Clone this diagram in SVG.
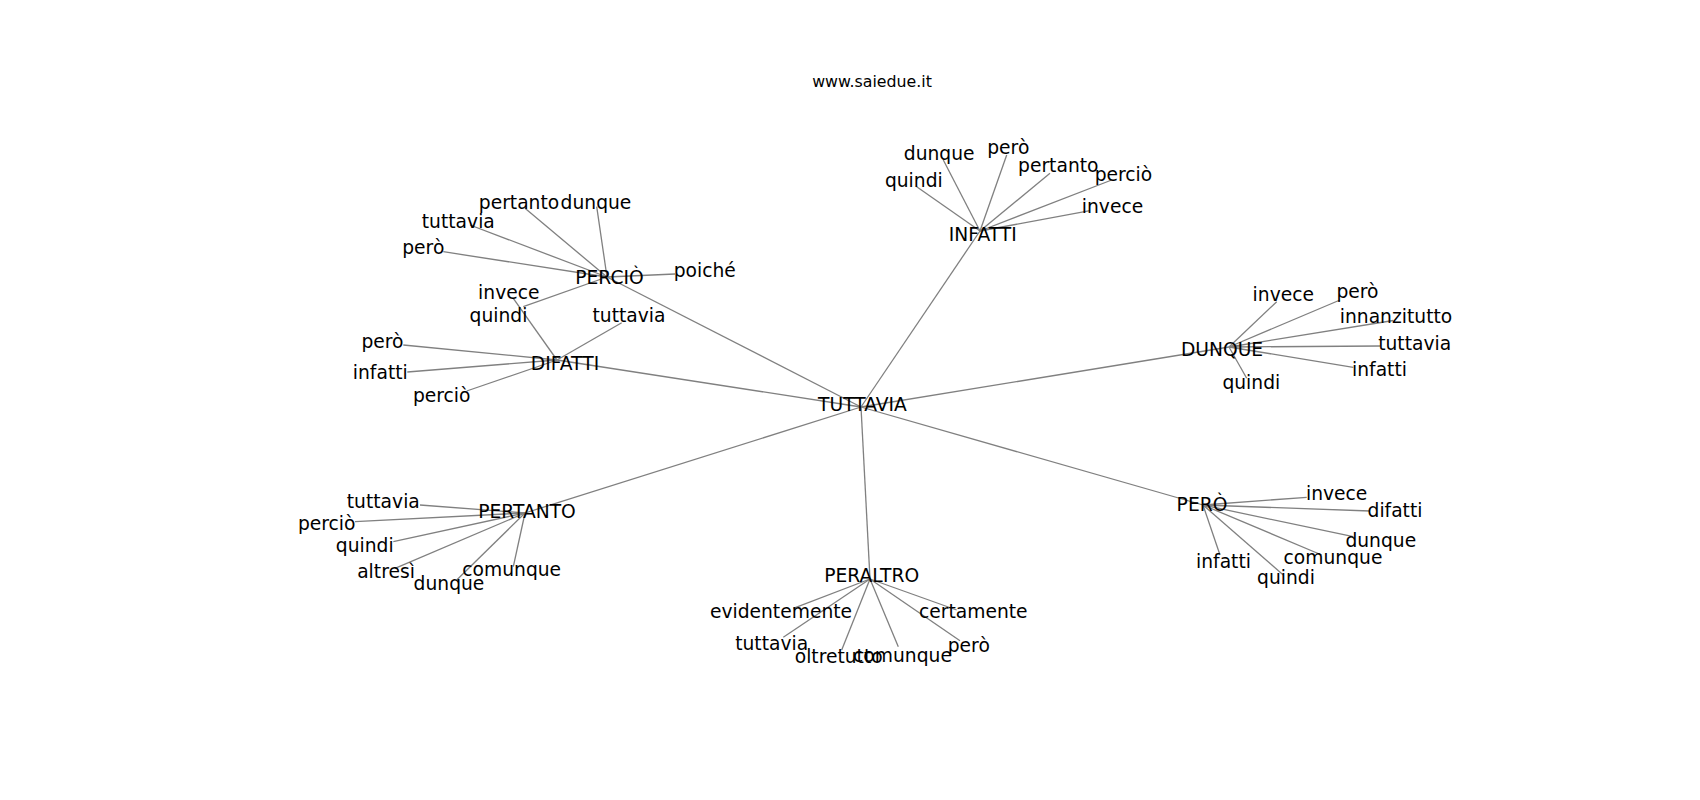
<svg xmlns="http://www.w3.org/2000/svg" width="1700" height="800" viewBox="0 0 1700 800">
<style>
text{font-family:"DejaVu Sans","Liberation Sans",sans-serif;fill:#000;text-anchor:middle}
.n{font-size:18.7px}
.t{font-size:15.8px}
#edges line{stroke:#808080;stroke-width:1.3;fill:none}
</style>
<rect width="1700" height="800" fill="#fff"/>
<text class="t" x="872" y="87.3">www.saiedue.it</text>
<g id="edges">
<line x1="861" y1="407" x2="607" y2="277"/>
<line x1="861" y1="407" x2="557" y2="360"/>
<line x1="861" y1="407" x2="525" y2="513"/>
<line x1="861" y1="407" x2="980" y2="231"/>
<line x1="861" y1="407" x2="1229" y2="347"/>
<line x1="861" y1="407" x2="1203" y2="505"/>
<line x1="861" y1="407" x2="870" y2="579"/>
<line x1="607" y1="277" x2="443.3" y2="251.7"/>
<line x1="607" y1="277" x2="470" y2="225"/>
<line x1="607" y1="277" x2="525" y2="208.3"/>
<line x1="607" y1="277" x2="596.7" y2="206.7"/>
<line x1="607" y1="277" x2="675" y2="274"/>
<line x1="607" y1="277" x2="523.3" y2="306.7"/>
<line x1="557" y1="360" x2="513.3" y2="298.3"/>
<line x1="557" y1="360" x2="621.7" y2="322.7"/>
<line x1="557" y1="360" x2="403.3" y2="345"/>
<line x1="557" y1="360" x2="407.3" y2="372"/>
<line x1="557" y1="360" x2="466.7" y2="391"/>
<line x1="980" y1="231" x2="943.3" y2="160"/>
<line x1="980" y1="231" x2="1006.7" y2="155"/>
<line x1="980" y1="231" x2="1050" y2="173.3"/>
<line x1="980" y1="231" x2="1111.7" y2="180"/>
<line x1="980" y1="231" x2="916.7" y2="186.7"/>
<line x1="980" y1="231" x2="1090" y2="210.7"/>
<line x1="1229" y1="347" x2="1276.7" y2="301.7"/>
<line x1="1229" y1="347" x2="1340" y2="300"/>
<line x1="1229" y1="347" x2="1393.3" y2="320.5"/>
<line x1="1229" y1="347" x2="1380" y2="346"/>
<line x1="1229" y1="347" x2="1353.3" y2="367.3"/>
<line x1="1229" y1="347" x2="1246.7" y2="378.3"/>
<line x1="1203" y1="505" x2="1306.7" y2="497.3"/>
<line x1="1203" y1="505" x2="1370" y2="511"/>
<line x1="1203" y1="505" x2="1353.3" y2="536.7"/>
<line x1="1203" y1="505" x2="1321.7" y2="555"/>
<line x1="1203" y1="505" x2="1283.3" y2="575"/>
<line x1="1203" y1="505" x2="1220" y2="555"/>
<line x1="525" y1="513" x2="420" y2="505"/>
<line x1="525" y1="513" x2="355" y2="521.7"/>
<line x1="525" y1="513" x2="393.3" y2="541.7"/>
<line x1="525" y1="513" x2="395" y2="568.3"/>
<line x1="525" y1="513" x2="456.7" y2="580"/>
<line x1="525" y1="513" x2="513.3" y2="566.7"/>
<line x1="870" y1="579" x2="793.3" y2="608.3"/>
<line x1="870" y1="579" x2="783.3" y2="637.3"/>
<line x1="870" y1="579" x2="841.7" y2="650"/>
<line x1="870" y1="579" x2="898.3" y2="646.7"/>
<line x1="870" y1="579" x2="956.7" y2="610"/>
<line x1="870" y1="579" x2="960" y2="640.7"/>
</g>
<g id="tuttavia"><text class="n" x="862.5" y="411">TUTTAVIA</text></g>
<g id="percio"><text class="n" x="609.5" y="284">PERCIÒ</text></g>
<g id="difatti"><text class="n" x="565" y="370">DIFATTI</text></g>
<g id="infatti"><text class="n" x="982.8" y="241">INFATTI</text></g>
<g id="dunque"><text class="n" x="1222" y="355.7">DUNQUE</text></g>
<g id="pero"><text class="n" x="1202" y="511">PERÒ</text></g>
<g id="pertanto"><text class="n" x="527" y="517.7">PERTANTO</text></g>
<g id="peraltro"><text class="n" x="871.7" y="582.3">PERALTRO</text></g>
<g id="percio-pero"><text class="n" x="423.3" y="254">però</text></g>
<g id="percio-tuttavia"><text class="n" x="458.3" y="227.7">tuttavia</text></g>
<g id="percio-pertanto"><text class="n" x="519" y="209.3">pertanto</text></g>
<g id="percio-dunque"><text class="n" x="596" y="209.3">dunque</text></g>
<g id="percio-poiche"><text class="n" x="704.7" y="276.7">poiché</text></g>
<g id="percio-quindi"><text class="n" x="498.5" y="321.7">quindi</text></g>
<g id="difatti-invece"><text class="n" x="508.8" y="299.3">invece</text></g>
<g id="difatti-tuttavia"><text class="n" x="629" y="321.7">tuttavia</text></g>
<g id="difatti-pero"><text class="n" x="382.5" y="348">però</text></g>
<g id="difatti-infatti"><text class="n" x="380.3" y="379.2">infatti</text></g>
<g id="difatti-percio"><text class="n" x="441.7" y="401.7">perciò</text></g>
<g id="infatti-dunque"><text class="n" x="939.2" y="160">dunque</text></g>
<g id="infatti-pero"><text class="n" x="1008.3" y="154.3">però</text></g>
<g id="infatti-pertanto"><text class="n" x="1058.3" y="171.7">pertanto</text></g>
<g id="infatti-percio"><text class="n" x="1123.5" y="180.7">perciò</text></g>
<g id="infatti-quindi"><text class="n" x="913.8" y="187.3">quindi</text></g>
<g id="infatti-invece"><text class="n" x="1112.5" y="212.7">invece</text></g>
<g id="dunque-invece"><text class="n" x="1283.3" y="301">invece</text></g>
<g id="dunque-pero"><text class="n" x="1357.5" y="297.5">però</text></g>
<g id="dunque-innanzitutto"><text class="n" x="1396" y="322.5">innanzitutto</text></g>
<g id="dunque-tuttavia"><text class="n" x="1414.7" y="350">tuttavia</text></g>
<g id="dunque-infatti"><text class="n" x="1379.5" y="376">infatti</text></g>
<g id="dunque-quindi"><text class="n" x="1251.3" y="389.3">quindi</text></g>
<g id="pero-invece"><text class="n" x="1336.7" y="500">invece</text></g>
<g id="pero-difatti"><text class="n" x="1395" y="517.3">difatti</text></g>
<g id="pero-dunque"><text class="n" x="1380.8" y="547.3">dunque</text></g>
<g id="pero-comunque"><text class="n" x="1333" y="564">comunque</text></g>
<g id="pero-quindi"><text class="n" x="1286" y="584">quindi</text></g>
<g id="pero-infatti"><text class="n" x="1223.5" y="567.7">infatti</text></g>
<g id="pertanto-tuttavia"><text class="n" x="383.3" y="508.3">tuttavia</text></g>
<g id="pertanto-percio"><text class="n" x="326.7" y="530">perciò</text></g>
<g id="pertanto-quindi"><text class="n" x="364.7" y="551.7">quindi</text></g>
<g id="pertanto-altresi"><text class="n" x="386" y="578.3">altresì</text></g>
<g id="pertanto-dunque"><text class="n" x="449" y="590">dunque</text></g>
<g id="pertanto-comunque"><text class="n" x="511.7" y="575.7">comunque</text></g>
<g id="peraltro-evidentemente"><text class="n" x="781" y="618.3">evidentemente</text></g>
<g id="peraltro-tuttavia"><text class="n" x="771.7" y="650">tuttavia</text></g>
<g id="peraltro-oltretutto"><text class="n" x="838.7" y="662.7">oltretutto</text></g>
<g id="peraltro-comunque"><text class="n" x="902.5" y="661.7">comunque</text></g>
<g id="peraltro-certamente"><text class="n" x="973.3" y="618.3">certamente</text></g>
<g id="peraltro-pero"><text class="n" x="968.8" y="651.7">però</text></g>
</svg>
